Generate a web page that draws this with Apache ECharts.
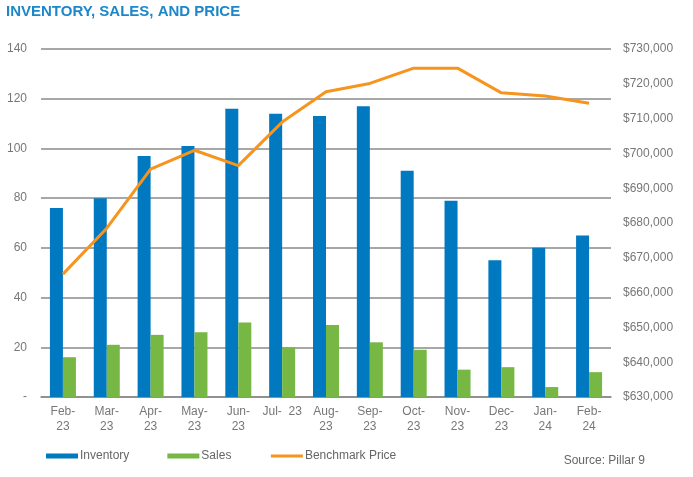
<!DOCTYPE html>
<html lang="en">
<head>
    <meta charset="UTF-8">
    <title>Inventory, Sales, and Price</title>
    <script src="https://cdn.jsdelivr.net/npm/echarts@6/dist/echarts.min.js"></script>
    <style>
        html, body { margin: 0; padding: 0; background: #fff; }
        #chartmain { width: 693px; height: 477px; }
    </style>
</head>
<body>
<div id="chartmain"></div>
<script type="text/javascript">
    // months shown on the x axis
    var months = ['Feb-\n23', 'Mar-\n23', 'Apr-\n23', 'May-\n23', 'Jun-\n23', 'Jul-  23', 'Aug-\n23',
        'Sep-\n23', 'Oct-\n23', 'Nov-\n23', 'Dec-\n23', 'Jan-\n24', 'Feb-\n24'];
    var inventory = [76, 80, 97, 101, 116, 114, 113, 117, 91, 79, 55, 60, 65];
    var sales = [16, 21, 25, 26, 30, 20, 29, 22, 19, 11, 12, 4, 10];
    var price = [665300, 678500, 695500, 700900, 696500, 709000, 717700, 720100, 724500, 724500, 717400, 716500, 714400];

    var narrow = "'Liberation Sans Narrow', 'Liberation Sans', Arial, sans-serif";

    var myChart = echarts.init(document.getElementById('chartmain'));
    var option = {
        animation: false,
        title: {
            text: 'INVENTORY, SALES, AND PRICE',
            left: 6,
            top: 4,
            padding: 0,
            textStyle: {
                color: '#1d87c9',
                fontSize: 15,
                fontWeight: 'bold',
                fontFamily: "'Liberation Sans', Arial, sans-serif"
            }
        },
        graphic: [{
            type: 'text',
            right: 48,
            top: 455,
            style: {
                text: 'Source: Pillar 9',
                fill: '#666',
                fontSize: 12,
                fontFamily: narrow
            }
        }],
        legend: {
            left: 41,
            top: 445,
            itemWidth: 32,
            itemHeight: 5,
            itemGap: 38,
            textStyle: { color: '#666', fontSize: 12, fontFamily: narrow, padding: [0, 0, 0, -3] },
            data: [
                { name: 'Inventory', icon: 'rect' },
                { name: 'Sales', icon: 'rect' },
                { name: 'Benchmark Price', itemStyle: { opacity: 0 }, lineStyle: { width: 3 } }
            ]
        },
        grid: { left: 41, right: 82, top: 49, bottom: 80 },
        xAxis: {
            type: 'category',
            data: months,
            axisTick: { show: false },
            axisLine: { lineStyle: { color: '#8a8a8a', width: 1.5 } },
            axisLabel: {
                color: '#777',
                fontSize: 12,
                fontFamily: narrow,
                lineHeight: 15,
                margin: 7,
                interval: 0
            }
        },
        yAxis: [{
            type: 'value',
            min: 0,
            max: 140,
            interval: 20,
            axisLine: { show: false },
            axisTick: { show: false },
            splitLine: { lineStyle: { color: '#8a8a8a', width: 1.5 } },
            axisLabel: {
                color: '#777',
                fontSize: 12,
                fontFamily: narrow,
                margin: 14,
                formatter: function (v) { return v === 0 ? '-' : v; }
            }
        }, {
            type: 'value',
            min: 630000,
            max: 730000,
            interval: 10000,
            axisLine: { show: false },
            axisTick: { show: false },
            splitLine: { show: false },
            axisLabel: {
                color: '#777',
                fontSize: 12,
                fontFamily: narrow,
                margin: 12,
                formatter: function (v) { return '$' + v.toLocaleString('en-US'); }
            }
        }],
        series: [{
            name: 'Inventory',
            type: 'bar',
            data: inventory,
            barWidth: 13,
            barGap: '0%',
            itemStyle: { color: '#0079c1' }
        }, {
            name: 'Sales',
            type: 'bar',
            data: sales,
            barWidth: 13,
            itemStyle: { color: '#76b843' }
        }, {
            name: 'Benchmark Price',
            type: 'line',
            yAxisIndex: 1,
            data: price,
            symbol: 'none',
            lineStyle: { color: '#f7941d', width: 3 },
            itemStyle: { color: '#f7941d' }
        }]
    };
    myChart.setOption(option);
</script>
</body>
</html>
